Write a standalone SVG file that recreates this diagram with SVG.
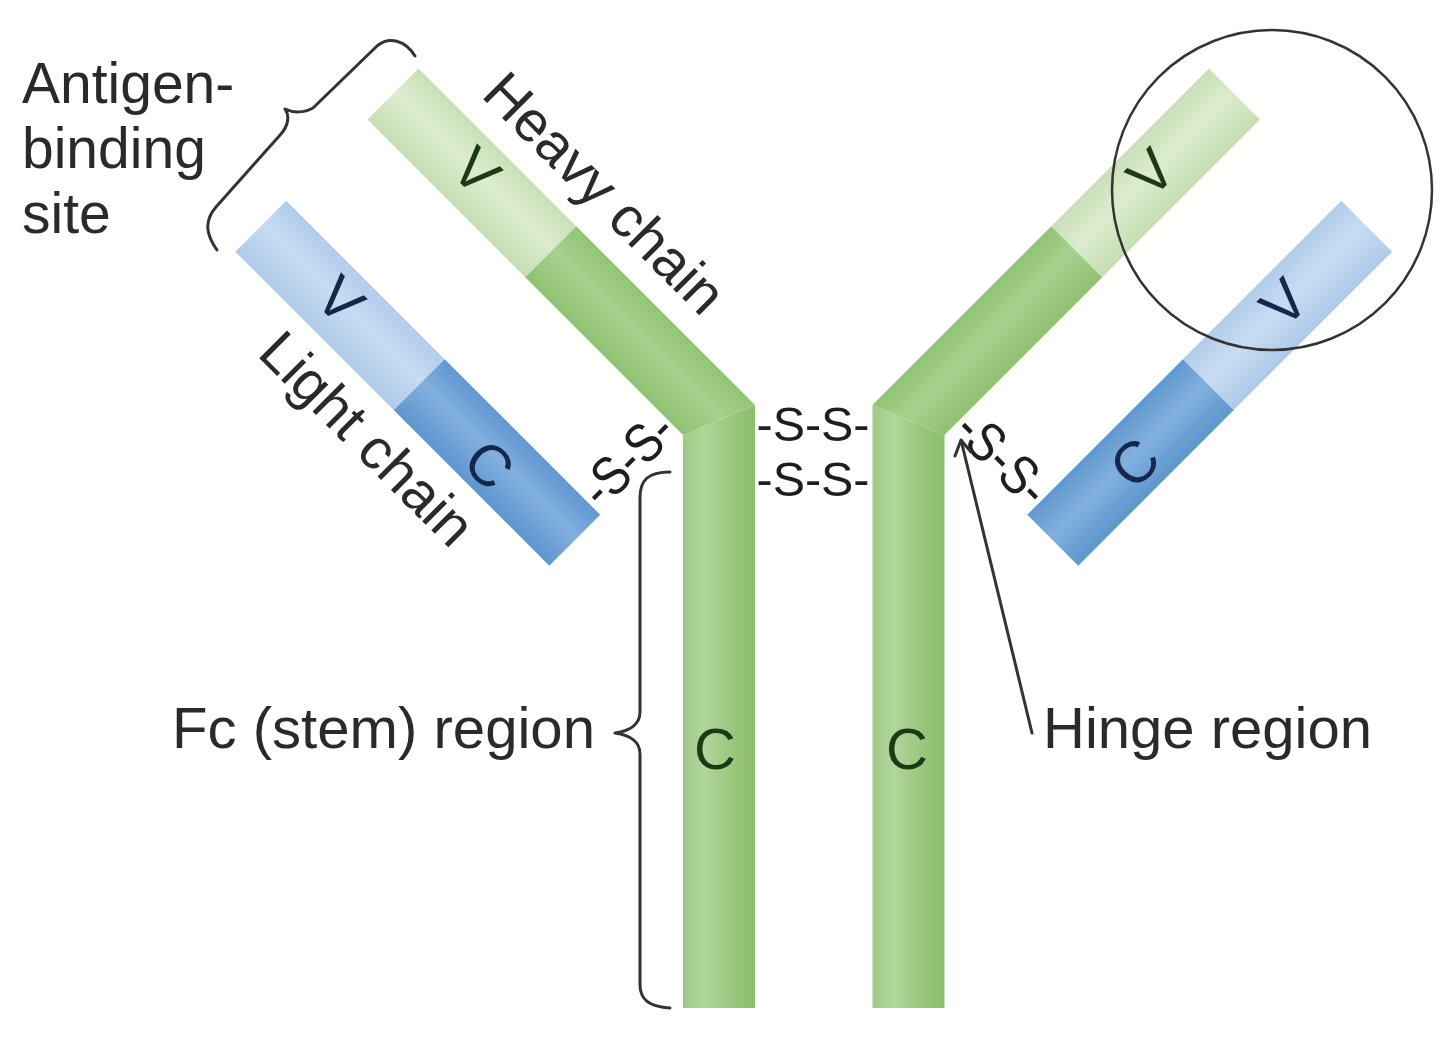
<svg xmlns="http://www.w3.org/2000/svg" width="1440" height="1042" viewBox="0 0 1440 1042">
<defs>
<linearGradient id="gHV" x1="0" y1="0" x2="0" y2="1"><stop offset="0" stop-color="#c9e0b6"/><stop offset="0.45" stop-color="#dcecd0"/><stop offset="1" stop-color="#c6deb2"/></linearGradient>
<linearGradient id="gHC" x1="0" y1="0" x2="0" y2="1"><stop offset="0" stop-color="#92c374"/><stop offset="0.45" stop-color="#a8d18f"/><stop offset="1" stop-color="#8fc170"/></linearGradient>
<linearGradient id="gLV" x1="0" y1="0" x2="0" y2="1"><stop offset="0" stop-color="#b2cceb"/><stop offset="0.45" stop-color="#c8dbf2"/><stop offset="1" stop-color="#afcae9"/></linearGradient>
<linearGradient id="gLC" x1="0" y1="0" x2="0" y2="1"><stop offset="0" stop-color="#5f98d0"/><stop offset="0.45" stop-color="#82b0de"/><stop offset="1" stop-color="#5d96ce"/></linearGradient>
<linearGradient id="gStem" x1="0" y1="0" x2="1" y2="0"><stop offset="0" stop-color="#9fca86"/><stop offset="0.3" stop-color="#b1d59c"/><stop offset="0.7" stop-color="#98c67b"/><stop offset="1" stop-color="#8cbf6d"/></linearGradient>
</defs>
<style>
.hv{fill:url(#gHV)}
.hc{fill:url(#gHC)}
.lv{fill:url(#gLV)}
.lc{fill:url(#gLC)}
.stem{fill:url(#gStem)}
text{font-family:"Liberation Sans",Arial,Helvetica,sans-serif}
.lbl{font-size:57px;fill:#2a2a2a}
.dom{font-size:58px;text-anchor:middle}
.dg{fill:#1d3a16}
.db{fill:#13284a}
.ss{font-size:55px;fill:#1e1e1e;text-anchor:middle}
.ssc{font-size:48px;fill:#1e1e1e;text-anchor:middle}
.ln{fill:none;stroke:#333;stroke-width:3;stroke-linecap:round;stroke-linejoin:round}
</style>
<rect width="1440" height="1042" fill="#ffffff"/>

<g id="left-heavy-chain">
<polygon class="stem" points="683,434.9 755,405.1 755,1008 683,1008"/>
<g transform="translate(719,420) rotate(45)">
<rect class="hv" x="-461" y="-36" width="223" height="72"/>
<polygon class="hc" points="-238,-36 14.9,-36 -14.9,36 -238,36"/>
</g>
</g>
<g id="left-light-chain">
<g transform="translate(719,420) rotate(45)">
<rect class="lv" x="-461" y="151" width="224" height="72"/>
<rect class="lc" x="-237" y="151" width="220" height="72"/>
</g>
</g>
<g id="right-heavy-chain">
<polygon class="stem" points="872.5,405.1 944.5,434.9 944.5,1008 872.5,1008"/>
<g transform="matrix(-1 0 0 1 1627.5 0)"><g transform="translate(719,420) rotate(45)">
<rect class="hv" x="-461" y="-36" width="223" height="72"/>
<polygon class="hc" points="-238,-36 14.9,-36 -14.9,36 -238,36"/>
</g></g>
</g>
<g id="right-light-chain">
<g transform="matrix(-1 0 0 1 1627.5 0)"><g transform="translate(719,420) rotate(45)">
<rect class="lv" x="-461" y="151" width="224" height="72"/>
<rect class="lc" x="-237" y="151" width="220" height="72"/>
</g></g>
</g>

<g id="domain-letters">
<text class="dom dg" transform="translate(477,170) rotate(45)" x="0" y="21">V</text>
<text class="dom db" transform="translate(341,299) rotate(45)" x="0" y="21">V</text>
<text class="dom db" transform="translate(490,464) rotate(45)" x="0" y="21">C</text>
<text class="dom dg" x="715" y="769">C</text>
<text class="dom dg" x="907" y="769">C</text>
<text class="dom dg" transform="translate(1150,172) rotate(-45)" x="0" y="21">V</text>
<text class="dom db" transform="translate(1283,302) rotate(-45)" x="0" y="21">V</text>
<text class="dom db" transform="translate(1134,462) rotate(-45)" x="0" y="21">C</text>
</g>

<g id="disulfide-bonds">
<text class="ssc" x="813" y="441" textLength="113" lengthAdjust="spacingAndGlyphs">-S-S-</text>
<text class="ssc" x="813" y="496" textLength="113" lengthAdjust="spacingAndGlyphs">-S-S-</text>
<text class="ss" transform="translate(627,459) rotate(-45)" x="0" y="19" textLength="108" lengthAdjust="spacingAndGlyphs">-S-S-</text>
<text class="ss" transform="translate(1003,458) rotate(45)" x="0" y="19" textLength="108" lengthAdjust="spacingAndGlyphs">-S-S-</text>
</g>

<g id="antigen-binding-circle">
<circle cx="1272" cy="190" r="160" fill="none" stroke="#333" stroke-width="2.5"/>
</g>

<g id="labels">
<text class="lbl" x="22" y="103">Antigen-</text>
<text class="lbl" x="22" y="168">binding</text>
<text class="lbl" x="22" y="233">site</text>
<text class="lbl" transform="translate(480,96) rotate(45)">Heavy chain</text>
<text class="lbl" transform="translate(256,355) rotate(45)">Light chain</text>
<text class="lbl" x="172" y="748" textLength="423" lengthAdjust="spacingAndGlyphs">Fc (stem) region</text>
<text class="lbl" x="1043" y="748" textLength="329" lengthAdjust="spacingAndGlyphs">Hinge region</text>
</g>

<g id="connectors">
<path class="ln" d="M 217,250 C 207,236 203,222 216,207 L 281,134 C 288,126 290,116 285,109 C 293,113 304,113 313,108 L 377,46 C 389,36 405,40 415,56"/>
<path class="ln" d="M 670,472 C 648,472 640,480 640,498 L 640,712 C 640,724 630,731 615,733 C 630,735 640,742 640,754 L 640,985 C 640,1000 650,1007 670,1008"/>
<path class="ln" stroke-width="2.2" d="M 1032,733 L 961,440 M 955,456 L 961,440 L 971,452"/>
</g>
</svg>
